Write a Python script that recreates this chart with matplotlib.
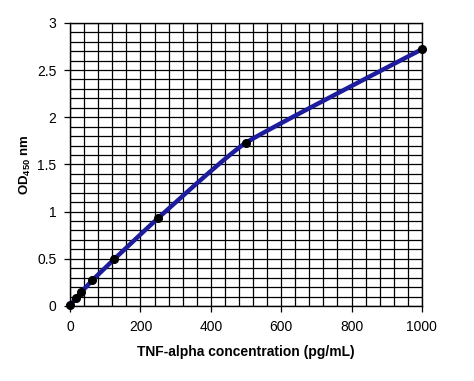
import numpy as np
import matplotlib
matplotlib.use("Agg")
import matplotlib.pyplot as plt
from matplotlib.ticker import MultipleLocator

plt.rcParams['font.family'] = ['Liberation Sans', 'DejaVu Sans']
plt.rcParams['mathtext.fontset'] = 'custom'
plt.rcParams['mathtext.rm'] = 'Liberation Sans'
plt.rcParams['mathtext.bf'] = 'Liberation Sans:bold'

concentration = [0, 15.6, 31.25, 62.5, 125, 250, 500, 1000]
od450 = [0.005, 0.08, 0.145, 0.27, 0.495, 0.93, 1.73, 2.72]
x_ticks = [0, 200, 400, 600, 800, 1000]
y_ticks = [0, 0.5, 1, 1.5, 2, 2.5, 3]


def smooth_line(x, y, tension=1 / 14, n=60):
    """Lightly smoothed line: cubic Bezier segments with tangents tension*(p[i+1]-p[i-1])."""
    p = np.column_stack([x, y]).astype(float)
    out = []
    t = np.linspace(0, 1, n)[:, None]
    for i in range(len(p) - 1):
        prev = p[i - 1] if i > 0 else p[i]
        nxt = p[i + 2] if i + 2 < len(p) else p[i + 1]
        c1 = p[i] + (p[i + 1] - prev) * tension
        c2 = p[i + 1] - (nxt - p[i]) * tension
        seg = ((1 - t) ** 3) * p[i] + 3 * ((1 - t) ** 2) * t * c1 + 3 * (1 - t) * t ** 2 * c2 + t ** 3 * p[i + 1]
        out.append(seg if i == 0 else seg[1:])
    out = np.vstack(out)
    return out[:, 0], out[:, 1]


fig = plt.figure(figsize=(4.74, 3.81), dpi=100)
ax = fig.add_axes([0.148, 0.197, 0.742, 0.743])

cx, cy = smooth_line(concentration, od450)
ax.plot(cx, cy, color='#1c1c9c', lw=3.2, zorder=3, solid_capstyle='round')
ax.plot(concentration, od450, 'o', color='black', ms=5.5, zorder=4, clip_on=False)

ax.set_xlim(0, 1000)
ax.set_ylim(0, 3)
ax.set_xticks(x_ticks)
ax.set_yticks(y_ticks)
ax.set_yticklabels(['0', '0.5', '1', '1.5', '2', '2.5', '3'])
ax.xaxis.set_minor_locator(MultipleLocator(40))
ax.yaxis.set_minor_locator(MultipleLocator(0.1))
ax.grid(True, which='both', color='black', lw=0.9)
ax.set_axisbelow(True)
ax.tick_params(which='minor', length=0)
ax.tick_params(which='major', length=4, width=0.9, labelsize=10, color='black', pad=6)
for s in ax.spines.values():
    s.set_color('black'); s.set_linewidth(1.0)

ax.set_xlabel('TNF-alpha concentration (pg/mL)', fontsize=10, fontweight='bold', labelpad=8)
ax.set_ylabel(r'$\mathbf{OD_{450}}$ $\mathbf{nm}$', fontsize=9.5, labelpad=3)

fig.savefig('out.png', dpi=100)
